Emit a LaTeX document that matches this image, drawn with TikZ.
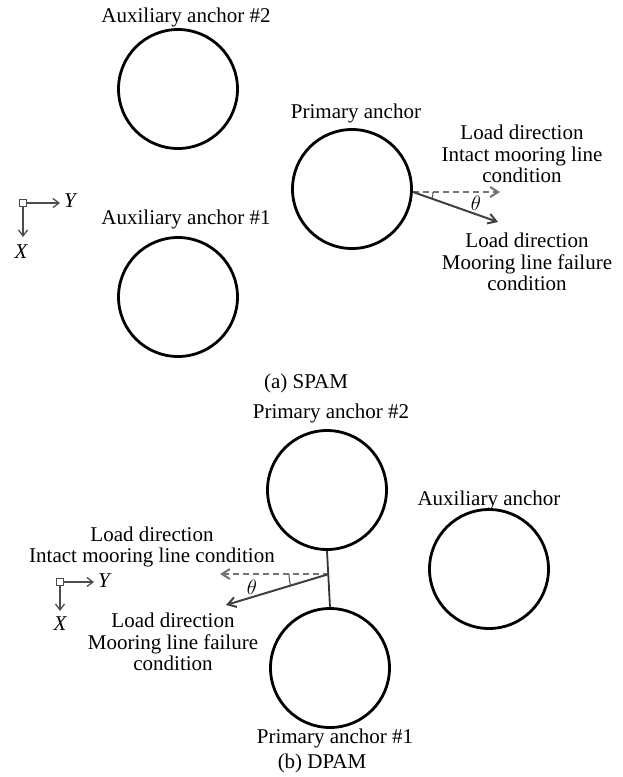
\documentclass[tikz,border=0pt]{standalone}
\usepackage{fontspec}
\setmainfont{Liberation Serif}
\usetikzlibrary{arrows.meta}
\begin{document}
\begin{tikzpicture}[x=1pt,y=-1pt,
  anchorc/.style={circle,draw=black,line width=2.8pt,minimum size=119pt,inner sep=0pt},
  lbl/.style={font=\fontsize{21}{21.5}\selectfont,inner sep=0pt,align=center},
  load/.style={draw=black!75,line width=2pt,-{Straight Barb[length=8pt,width=10pt,line width=2pt]}},
  loaddash/.style={draw=black!55,line width=2pt,dash pattern=on 6pt off 4pt,-{Straight Barb[length=8pt,width=10pt,line width=2pt]}},
  axis/.style={draw=black!70,line width=1.3pt,-{Straight Barb[length=6pt,width=9pt]}},
  axbox/.style={draw=black!70,line width=1pt,minimum size=7pt,inner sep=0pt},
  axl/.style={font=\fontsize{21}{21.5}\selectfont\itshape,inner sep=0pt},
  angarc/.style={draw=black!70,line width=1pt}]
\useasboundingbox (0,0) rectangle (623,777);
% (a) SPAM
\node[anchorc] (aux2) at (178,89) {};
\node[lbl] (aux2l) at (186,17) {Auxiliary anchor \#2};
\node[anchorc] (aux1) at (178,297) {};
\node[lbl] (aux1l) at (186,219) {Auxiliary anchor \#1};
\node[anchorc] (prim) at (352,189) {};
\node[lbl] (priml) at (356,113) {Primary anchor};
\coordinate (pa) at (413,192);
\coordinate (pad) at (500,192);
\coordinate (pas) at (498,222);
\draw[loaddash] (pa) -- (pad);
\draw[load] (pa) -- (pas);
\draw[angarc] (433,192) arc[start angle=0,end angle=19,radius=20];
\node[axl] (tha) at (476,203) {$\theta$};
\node[lbl] (la1) at (522,154) {Load direction\\Intact mooring line\\condition};
\node[lbl] (la2) at (527,262) {Load direction\\Mooring line failure\\condition};
\node[axbox] (oa) at (23,203) {};
\coordinate (ya) at (60,203);
\coordinate (xa) at (23,237);
\draw[axis] (oa.east) -- (ya);
\draw[axis] (oa.south) -- (xa);
\node[axl] (yal) at (70,201) {Y};
\node[axl] (xal) at (21,252) {X};
\node[lbl] (capa) at (306,383) {(a) SPAM};
% (b) DPAM
\node[lbl] (p2l) at (331,413) {Primary anchor \#2};
\node[anchorc] (p2) at (327,490) {};
\node[anchorc] (p1) at (330,668) {};
\node[lbl] (p1l) at (335,738) {Primary anchor \#1};
\draw[black!80,line width=1.8pt] (p2.south) -- (p1.north);
\node[anchorc] (auxb) at (489,569) {};
\node[lbl] (auxbl) at (489,500) {Auxiliary anchor};
\coordinate (pb) at (329,574);
\coordinate (pbd) at (220,574);
\coordinate (pbs) at (226,605);
\draw[loaddash] (pb) -- (pbd);
\draw[load] (pb) -- (pbs);
\draw[angarc] (289,574) arc[start angle=180,end angle=163,radius=40];
\node[axl] (thb) at (252,587) {$\theta$};
\node[lbl] (lb1) at (152,547) {Load direction\\Intact mooring line condition};
\node[lbl] (lb2) at (173,642) {Load direction\\Mooring line failure\\condition};
\node[axbox] (ob) at (60,582) {};
\coordinate (yb) at (94,582);
\coordinate (xb) at (60,611);
\draw[axis] (ob.east) -- (yb);
\draw[axis] (ob.south) -- (xb);
\node[axl] (ybl) at (104,581) {Y};
\node[axl] (xbl) at (60,624) {X};
\node[lbl] (capb) at (322,763) {(b) DPAM};
\end{tikzpicture}
\end{document}
